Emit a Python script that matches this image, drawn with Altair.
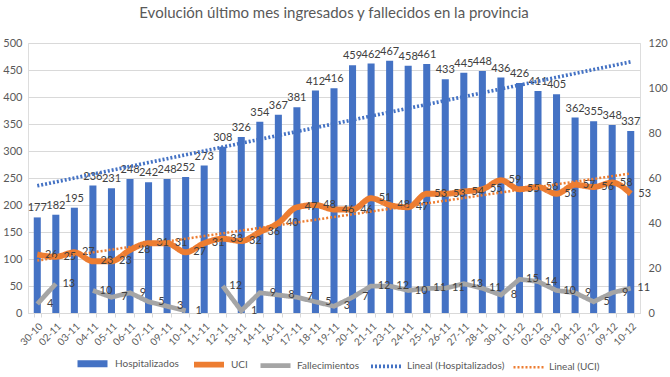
import altair as alt
import pandas as pd

fechas = ["30-10", "02-11", "03-11", "04-11", "05-11", "06-11", "07-11", "09-11", "10-11",
          "11-11", "12-11", "13-11", "14-11", "16-11", "17-11", "18-11", "19-11", "20-11",
          "21-11", "23-11", "24-11", "25-11", "26-11", "27-11", "28-11", "30-11", "01-12",
          "02-12", "03-12", "04-12", "07-12", "09-12", "10-12"]
hospitalizados = [177, 182, 195, 236, 231, 248, 242, 248, 252, 273, 308, 326, 354, 367, 381,
                  412, 416, 459, 462, 467, 458, 461, 433, 445, 448, 436, 426, 411, 405, 362,
                  355, 348, 337]
uci = [26, 25, 27, 23, 23, 28, 31, 31, 27, 31, 33, 32, 36, 40, 47, 48, 46, 46, 51, 48, 47,
       53, 53, 54, 55, 59, 55, 56, 53, 57, 56, 58, 53]
fallecimientos = [4, 13, None, 10, 7, 9, 5, 3, 1, None, 12, 1, 9, 8, 7, 5, 3, 7, 12, 12, 10,
                  11, 11, 13, 11, 8, 15, 14, 10, 9, 5, 9, 11]

series = ["Hospitalizados", "UCI", "Fallecimientos", "Lineal (Hospitalizados)", "Lineal (UCI)"]
colores = ["#4472C4", "#ED7D31", "#A5A5A5", "#4472C4", "#ED7D31"]
trazos = [[1, 0], [1, 0], [1, 0], [2, 2], [2, 2]]
grosores = [7, 2.5, 2.5, 1.5, 1.5]

df = pd.DataFrame({
    "fecha": fechas,
    "idx": list(range(len(fechas))),
    "hosp": hospitalizados,
    "uci": uci,
    "fall": fallecimientos,
})

FONT = "Lato"
TXT = "#404040"
AX = "#595959"

leg = alt.Legend(title=None, orient="none", legendX=46, legendY=302, direction="horizontal",
                 symbolType="stroke", symbolSize=900, labelFont=FONT, labelFontSize=10,
                 labelColor=AX, columnPadding=3, labelOffset=4)
color_enc = alt.Color("serie:N", scale=alt.Scale(domain=series, range=colores), legend=leg)
dash_enc = alt.StrokeDash("serie:N", scale=alt.Scale(domain=series, range=trazos), legend=leg)
width_enc = alt.StrokeWidth("serie:N", scale=alt.Scale(domain=series, range=grosores), legend=leg)

xscale = alt.Scale(paddingInner=0.62, paddingOuter=0.31)
x_ax = alt.Axis(labelAngle=-45, labelFontSize=10, labelColor=AX, labelFont=FONT,
                domainColor="#D9D9D9", tickColor="#D9D9D9", tickSize=4,
                tickBand="extent", labelPadding=4, grid=False, title=None)
left_ax = alt.Axis(values=list(range(0, 501, 50)), grid=True, gridColor="#D9D9D9",
                   domain=False, ticks=False, labelColor=AX, labelFont=FONT,
                   labelFontSize=11, labelPadding=6, title=None)
right_ax = alt.Axis(orient="right", values=list(range(0, 121, 20)), grid=False,
                    domain=False, ticks=False, labelColor=AX, labelFont=FONT,
                    labelFontSize=11, labelPadding=8, title=None)

left_scale = alt.Scale(domain=[0, 500])
right_scale = alt.Scale(domain=[0, 120])


def X():
    return alt.X("fecha:O", sort=fechas, scale=xscale, axis=x_ax, title=None)


def YL(field):
    return alt.Y(f"{field}:Q", scale=left_scale, axis=left_ax, title=None)


def YR(field):
    return alt.Y(f"{field}:Q", scale=right_scale, axis=right_ax, title=None)


bars = alt.Chart().mark_bar(color="#4472C4").encode(x=X(), y=YL("hosp"))
bar_text = alt.Chart().mark_text(baseline="bottom", dy=-4, fontSize=11, font=FONT, color=TXT).encode(
    x=X(), y=YL("hosp"), text="hosp:Q")


def trend(field):
    return (alt.Chart()
            .transform_joinaggregate(mx="mean(idx)", my=f"mean({field})")
            .transform_calculate(dxy=f"(datum.idx - datum.mx) * (datum.{field} - datum.my)",
                                 dxx="(datum.idx - datum.mx) * (datum.idx - datum.mx)")
            .transform_joinaggregate(sxy="sum(dxy)", sxx="sum(dxx)")
            .transform_calculate(fit="datum.my + datum.sxy / datum.sxx * (datum.idx - datum.mx)"))


hosp_trend = trend("hosp").transform_calculate(serie="'Lineal (Hospitalizados)'").mark_line().encode(
    x=X(), y=YL("fit"), color=color_enc, strokeDash=dash_enc, strokeWidth=width_enc)

left = alt.layer(bars, bar_text, hosp_trend)

uci_line = alt.Chart().transform_calculate(serie="'UCI'").mark_line(interpolate="monotone").encode(
    x=X(), y=YR("uci"), color=color_enc, strokeDash=dash_enc, strokeWidth=width_enc)
uci_text = alt.Chart().mark_text(dx=14, baseline="middle", fontSize=11, font=FONT, color=TXT).encode(
    x=X(), y=YR("uci"), text="uci:Q")

fall_line = alt.Chart().transform_calculate(serie="'Fallecimientos'").mark_line(
    invalid="break-paths-show-domains").encode(
    x=X(), y=YR("fall"), color=color_enc, strokeDash=dash_enc, strokeWidth=width_enc)
fall_text = alt.Chart().transform_filter("isValid(datum.fall)").mark_text(
    dx=13, baseline="middle", fontSize=11, font=FONT, color=TXT).encode(
    x=X(), y=YR("fall"), text="fall:Q")

uci_trend = trend("uci").transform_calculate(serie="'Lineal (UCI)'").mark_line().encode(
    x=X(), y=YR("fit"), color=color_enc, strokeDash=dash_enc, strokeWidth=width_enc)

right = alt.layer(uci_line, fall_line, uci_text, fall_text, uci_trend)

chart = alt.layer(left, right, data=df).resolve_scale(y="independent").properties(
    width=612, height=270,
    autosize=alt.AutoSizeParams(type="none"),
    padding={"left": 28, "top": 43, "right": 30, "bottom": 64},
    title=alt.Title("Evolución último mes ingresados y fallecidos en la provincia",
                    font=FONT, fontSize=15, fontWeight="normal", color=AX,
                    anchor="middle", offset=16),
).configure_view(stroke=None).configure(background="white")

chart.save("out.html", embed_options={"renderer": "svg", "actions": False})
